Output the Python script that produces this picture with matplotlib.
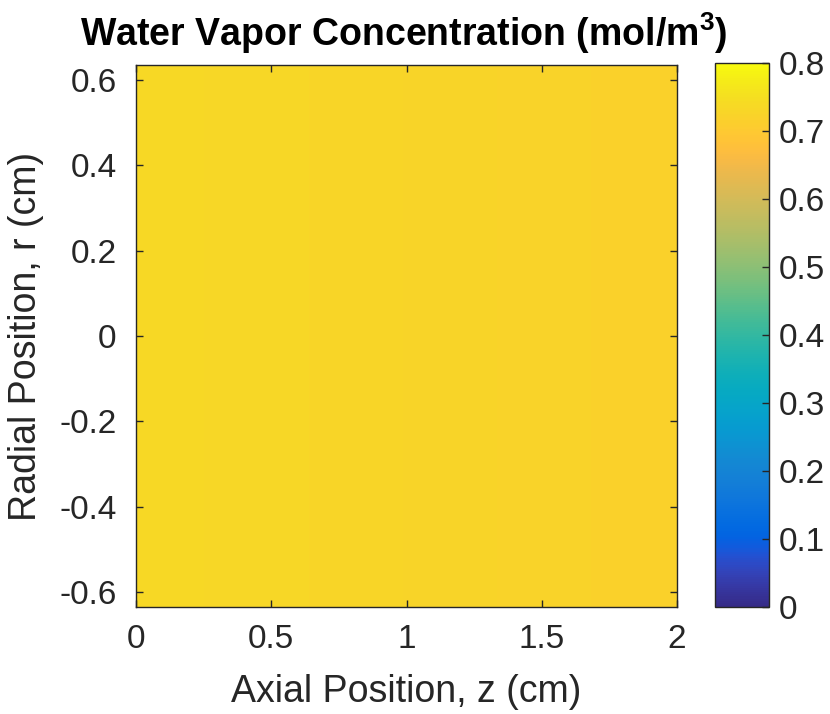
import numpy as np
import matplotlib
matplotlib.use("Agg")
import matplotlib.pyplot as plt
from matplotlib.colors import LinearSegmentedColormap

plt.rcParams['font.family'] = ['Liberation Sans', 'DejaVu Sans']
plt.rcParams['mathtext.fontset'] = 'custom'
plt.rcParams['mathtext.rm'] = 'Liberation Sans'
plt.rcParams['mathtext.bf'] = 'Liberation Sans:bold'

# ---- data ----
z_cm = [0.0, 0.25, 0.5, 0.75, 1.0, 1.25, 1.5, 1.75, 2.0]
r_cm = [-0.635, 0.635]
conc_along_z = [0.735, 0.734, 0.732, 0.730, 0.728, 0.726, 0.724, 0.722, 0.720]
x_ticks = [0, 0.5, 1, 1.5, 2]
x_ticklabels = ['0', '0.5', '1', '1.5', '2']
y_ticks = [-0.6, -0.4, -0.2, 0, 0.2, 0.4, 0.6]
y_ticklabels = ['-0.6', '-0.4', '-0.2', '0', '0.2', '0.4', '0.6']
cbar_ticks = [0, 0.1, 0.2, 0.3, 0.4, 0.5, 0.6, 0.7, 0.8]
cbar_ticklabels = ['0', '0.1', '0.2', '0.3', '0.4', '0.5', '0.6', '0.7', '0.8']

# MATLAB parula (64 entries)
parula_rgb = [
    [0.2081, 0.1663, 0.5292], [0.2116, 0.1898, 0.5777], [0.2123, 0.2138, 0.6270], [0.2081, 0.2386, 0.6771],
    [0.1959, 0.2645, 0.7279], [0.1707, 0.2919, 0.7792], [0.1253, 0.3242, 0.8303], [0.0591, 0.3598, 0.8683],
    [0.0117, 0.3875, 0.8820], [0.0060, 0.4086, 0.8828], [0.0165, 0.4266, 0.8786], [0.0329, 0.4430, 0.8720],
    [0.0498, 0.4586, 0.8641], [0.0629, 0.4737, 0.8554], [0.0723, 0.4887, 0.8467], [0.0779, 0.5040, 0.8384],
    [0.0793, 0.5200, 0.8312], [0.0749, 0.5375, 0.8263], [0.0641, 0.5570, 0.8240], [0.0488, 0.5772, 0.8228],
    [0.0343, 0.5966, 0.8199], [0.0265, 0.6137, 0.8135], [0.0239, 0.6287, 0.8038], [0.0231, 0.6418, 0.7913],
    [0.0228, 0.6535, 0.7768], [0.0267, 0.6642, 0.7607], [0.0384, 0.6743, 0.7436], [0.0590, 0.6838, 0.7254],
    [0.0843, 0.6928, 0.7062], [0.1133, 0.7015, 0.6859], [0.1453, 0.7098, 0.6646], [0.1801, 0.7177, 0.6424],
    [0.2178, 0.7250, 0.6193], [0.2586, 0.7317, 0.5954], [0.3022, 0.7376, 0.5712], [0.3482, 0.7424, 0.5473],
    [0.3953, 0.7459, 0.5244], [0.4420, 0.7481, 0.5033], [0.4871, 0.7491, 0.4840], [0.5300, 0.7491, 0.4661],
    [0.5709, 0.7485, 0.4494], [0.6099, 0.7473, 0.4337], [0.6473, 0.7456, 0.4188], [0.6834, 0.7435, 0.4044],
    [0.7184, 0.7411, 0.3905], [0.7525, 0.7384, 0.3768], [0.7858, 0.7356, 0.3633], [0.8185, 0.7327, 0.3498],
    [0.8507, 0.7299, 0.3360], [0.8824, 0.7274, 0.3217], [0.9139, 0.7258, 0.3063], [0.9450, 0.7261, 0.2886],
    [0.9739, 0.7314, 0.2666], [0.9938, 0.7455, 0.2403], [0.9990, 0.7653, 0.2164], [0.9955, 0.7861, 0.1967],
    [0.9880, 0.8066, 0.1794], [0.9789, 0.8271, 0.1633], [0.9697, 0.8481, 0.1475], [0.9626, 0.8705, 0.1309],
    [0.9589, 0.8949, 0.1132], [0.9598, 0.9218, 0.0948], [0.9661, 0.9514, 0.0755], [0.9763, 0.9831, 0.0538],
]
parula = LinearSegmentedColormap.from_list('parula', parula_rgb, N=256)

W, H = 830, 714
fig = plt.figure(figsize=(W / 100, H / 100), dpi=100)

def fr(x0, y0, x1, y1):
    return [x0 / W, 1 - y1 / H, (x1 - x0) / W, (y1 - y0) / H]

ax = fig.add_axes(fr(136, 65, 677, 607))
cax = fig.add_axes(fr(715, 63, 769, 607))

C = np.tile(np.array(conc_along_z), (len(r_cm), 1))
img = ax.imshow(C, cmap=parula, vmin=0, vmax=0.8, aspect='auto', origin='lower',
                interpolation='bilinear',
                extent=[z_cm[0], z_cm[-1], r_cm[0], r_cm[-1]])

ax.set_xlim(0, 2)
ax.set_ylim(-0.635, 0.635)
ax.set_xticks(x_ticks)
ax.set_xticklabels(x_ticklabels)
ax.set_yticks(y_ticks)
ax.set_yticklabels(y_ticklabels)
ax.tick_params(direction='in', length=5, width=1, top=True, right=True,
               labelsize=24, colors='#262626')
ax.tick_params(axis='x', pad=12)
ax.tick_params(axis='y', pad=14)
for s in ax.spines.values():
    s.set_color('#262626')
    s.set_linewidth(1.0)

fig.text(406 / W, 1 - 692 / H, 'Axial Position, z (cm)', ha='center', va='center',
         fontsize=27, color='#262626')
fig.text(26 / W, 1 - 336 / H, 'Radial Position, r (cm)', ha='center', va='center',
         rotation=90, fontsize=27, color='#262626')
fig.text(404 / W, 1 - 33 / H, r'Water Vapor Concentration (mol/m$^{\mathbf{3}}$)',
         ha='center', va='center', fontsize=27, fontweight='bold', color='black')

cb = fig.colorbar(img, cax=cax)
cb.set_ticks(cbar_ticks)
cb.set_ticklabels(cbar_ticklabels)
cax.tick_params(direction='in', length=5, width=1, labelsize=24, colors='#262626', pad=7)
cb.outline.set_edgecolor('#262626')
cb.outline.set_linewidth(1.0)

fig.savefig('out.png', dpi=100)
